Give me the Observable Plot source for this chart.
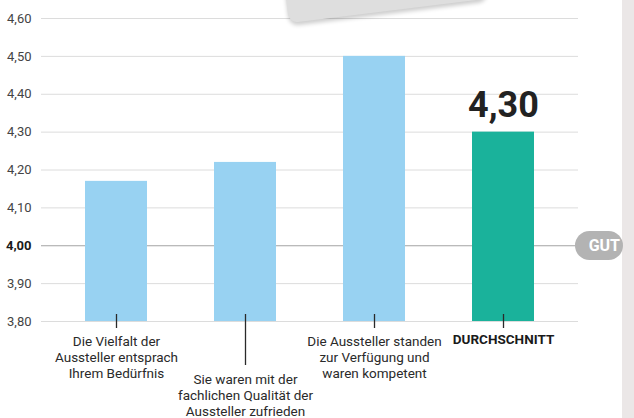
<!DOCTYPE html>
<html><head><meta charset="utf-8">
<script src="https://cdn.jsdelivr.net/npm/d3@7"></script>
<script src="https://cdn.jsdelivr.net/npm/@observablehq/plot@0.6"></script>
<style>
html,body{margin:0;padding:0;background:#fff;}
#wrap{position:relative;width:634px;height:418px;overflow:hidden;font-family:Roboto,sans-serif;}
#wrap svg{position:absolute;left:0;top:0;}
#panel{position:absolute;left:622px;top:0;width:12px;height:418px;background:#ebe7e7;}
#card{position:absolute;left:289px;top:-37px;width:200px;height:60px;background:#dedede;border-radius:9px;transform-origin:0 100%;transform:rotate(-7deg);box-shadow:0 3px 4px rgba(0,0,0,0.2);}
#badge{position:absolute;left:575px;width:48px;height:29px;border-radius:15px;background:#b3b3b3;color:#fff;font:bold 16px Roboto,sans-serif;line-height:29px;text-align:right;padding-right:3px;box-sizing:border-box;}
</style></head><body><div id="wrap"><div id="panel"></div></div><script>
const categories = ["Die Vielfalt der\nAussteller entsprach\nIhrem Bedürfnis", "Sie waren mit der\nfachlichen Qualität der\nAussteller zufrieden", "Die Aussteller standen\nzur Verfügung und\nwaren kompetent", "DURCHSCHNITT"];
const values = [4.17, 4.22, 4.50, 4.30];
const isAverage = [false, false, false, true];
const yTicks = [3.8, 3.9, 4.0, 4.1, 4.2, 4.3, 4.4, 4.5, 4.6];
const referenceValue = 4.0;
const referenceLabel = "GUT";

const data = categories.map((c, i) => ({cat: c, value: values[i], avg: isAverage[i], i}));
const fmt = d => d3.format(".2f")(d).replace(".", ",");
const yMin = yTicks[0];

const plot = Plot.plot({
  width: 634, height: 418,
  marginTop: 18, marginBottom: 97, marginLeft: 41, marginRight: 56,
  style: {fontFamily: "Roboto, sans-serif", background: "transparent", overflow: "visible"},
  x: {domain: categories, paddingInner: 0.523, paddingOuter: 0.327, axis: null},
  y: {domain: [yMin, yTicks[yTicks.length - 1]], axis: null},
  color: {domain: [false, true], range: ["#98d2f2", "#1ab29b"]},
  marks: [
    Plot.ruleY(yTicks.filter(t => t !== referenceValue), {stroke: "#dcdcdc", strokeWidth: 1}),
    Plot.ruleY([referenceValue], {stroke: "#a3a3a3", strokeWidth: 1.2}),
    Plot.axisY(yTicks.filter(t => t !== referenceValue), {tickSize: 0, tickPadding: 10, tickFormat: fmt, fontSize: 13, color: "#444", label: null}),
    Plot.axisY([referenceValue], {tickSize: 0, tickPadding: 10, tickFormat: fmt, fontSize: 13, fontWeight: "bold", color: "#1a1a1a", label: null}),
    Plot.barY(data, {x: "cat", y1: yMin, y2: "value", fill: "avg"}),
    Plot.ruleX(data.filter(d => d.i !== 1), {x: "cat", insetTop: 296, insetBottom: -7, stroke: "#2a2a2a", strokeWidth: 1.3}),
    Plot.ruleX(data.filter(d => d.i === 1), {x: "cat", insetTop: 296, insetBottom: -44, stroke: "#2a2a2a", strokeWidth: 1.3}),
    Plot.text(data.filter(d => !d.avg && d.i !== 1), {x: "cat", y: yMin, text: "cat", dy: 13, lineAnchor: "top", lineHeight: 1.2, fontSize: 13.5, fill: "#2a2a2a"}),
    Plot.text(data.filter(d => d.i === 1), {x: "cat", y: yMin, text: "cat", dy: 51, lineAnchor: "top", lineHeight: 1.2, fontSize: 13.5, fill: "#2a2a2a"}),
    Plot.text(data.filter(d => d.avg), {x: "cat", y: yMin, text: "cat", dy: 13, lineAnchor: "top", fontSize: 13.5, fontWeight: "bold", fill: "#1a1a1a"}),
    Plot.text(data.filter(d => d.avg), {x: "cat", y: "value", text: d => fmt(d.value), dy: -15, lineAnchor: "bottom", fontSize: 36, fontWeight: "bold", fill: "#222"})
  ]
});

const wrap = document.getElementById("wrap");
wrap.insertBefore(plot, wrap.firstChild);
const card = document.createElement("div");
card.id = "card";
wrap.appendChild(card);
const badge = document.createElement("div");
badge.id = "badge";
badge.textContent = referenceLabel;
badge.style.top = (plot.scale("y").apply(referenceValue) - 14.5) + "px";
wrap.appendChild(badge);
</script></body></html>
